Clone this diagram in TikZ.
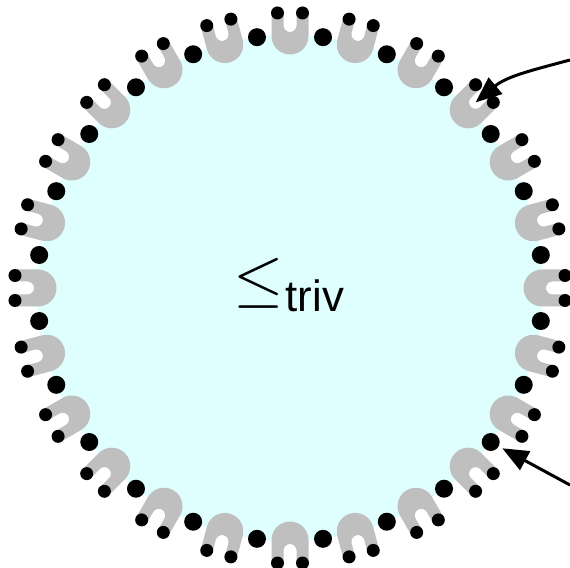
\documentclass[tikz,border=0pt]{standalone}
\usepackage{fontspec}
\setmainfont{Liberation Sans}
\usetikzlibrary{arrows.meta}
\definecolor{cyanfill}{HTML}{DFFFFF}
\definecolor{ugray}{HTML}{BFBFBF}
\tikzset{
  bigdot/.style={circle, fill=black, inner sep=0pt, minimum size=18bp},
  smalldot/.style={circle, fill=black, inner sep=0pt, minimum size=13bp},
  arr/.style={line width=3bp, -{Triangle[length=26bp,width=21bp]}},
}
\begin{document}
\begin{tikzpicture}[x=1bp,y=1bp]
\useasboundingbox (-290,-280) rectangle (280,288);
\fill[cyanfill] (0,0) circle (253);
\foreach \k in {0,...,23}{
  \begin{scope}[rotate=15*\k]
    \fill[ugray] (275,-18.5) -- (252,-18.5) arc[start angle=-90, end angle=-270, radius=18.5]
      -- (275,18.5) -- (275,6.5) -- (262.5,6.5) arc[start angle=90, end angle=270, radius=6.5]
      -- (275,-6.5) -- cycle;
    \node[smalldot] (a\k) at (275,12.5) {};
    \node[smalldot] (b\k) at (275,-12.5) {};
    \coordinate (u\k) at (262.5,0);
  \end{scope}
  \node[bigdot] (d\k) at (15*\k+7.5:253) {};
}
\node[anchor=base west, inner sep=0pt] (lbl) at (-57,-24)
  {\raisebox{13bp}{\scalebox{6.5}{$\leq$}}\kern2bp\fontsize{44}{44}\selectfont triv};
\coordinate (s1) at (280,228);
\coordinate (s2) at (280,-197);
\draw[arr] (s1) to[out=195,in=40] (u3);
\draw[arr, shorten >=4bp] (s2) -- (d21);
\end{tikzpicture}
\end{document}
